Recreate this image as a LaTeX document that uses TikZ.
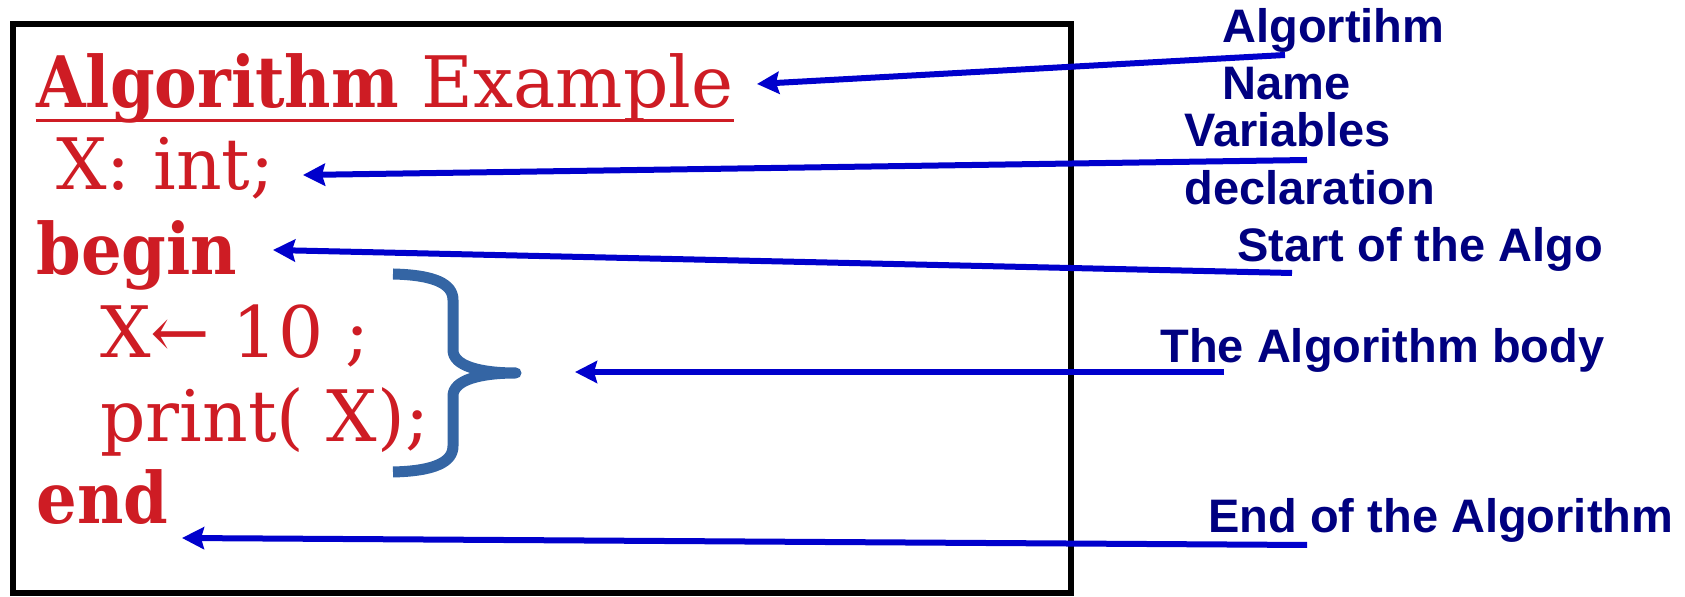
\documentclass[tikz,border=0pt]{standalone}
\usepackage{fontspec}
\setmainfont{DejaVuSerif.ttf}[BoldFont=DejaVuSerifCondensed-Bold.ttf]
\newfontfamily\notefont{Liberation Sans}
\usetikzlibrary{arrows.meta,positioning}
\definecolor{codered}{RGB}{206,28,36}
\definecolor{bracecol}{RGB}{52,101,164}
\definecolor{pointercol}{RGB}{0,0,204}
\definecolor{notecol}{RGB}{0,0,128}

\begin{document}
\begin{tikzpicture}[x=0.5pt,y=-0.5pt,% one unit = one pixel of the reference, y downwards
        code/.style={anchor=base west,inner sep=0pt,text=codered,font=\fontsize{35.5}{40}\selectfont},
        note/.style={anchor=base west,inner sep=0pt,text=notecol,font=\notefont\bfseries\fontsize{23.5}{28}\selectfont},
        pointer/.style={draw=pointercol,line width=3pt,-{Stealth[length=11pt,width=11pt,inset=1.5pt]}}]
\useasboundingbox (0,0) rectangle (1685,597);
\draw[line width=3pt] (13,24) rectangle (1071,593);

% the algorithm itself
\node[code] (title) at (36,108) {\textbf{Algorithm} Example};
\draw[codered,line width=1.5pt] ([yshift=-6.5pt]title.base west) -- ([yshift=-6.5pt]title.base east);
\node[code] (decl) at (56,190) {X: int;};
\node[code] (start) at (36,275) {\textbf{begin}};
\node[code] (assign) at (100,358) {X← 10 ;};
\node[code] (show) at (100,442) {print( X);};
\node[code] (stop) at (36,524) {\textbf{end}};

% brace round the body
\draw[bracecol,line width=5.5pt,line join=round] (393,274) .. controls (435,275) and (453,284) .. (453,300)
  -- (453,350) .. controls (453,366) and (480,373) .. (516,373)
  .. controls (480,373) and (453,380) .. (453,396) -- (453,446)
  .. controls (453,462) and (435,471) .. (393,472);

% notes on the right
\node[note] (nameA) at (1222,43) {Algortihm};
\node[note] (nameB) at (1222,100) {Name};
\node[note] (varA) at (1184,147) {Variables};
\node[note] (varB) at (1184,205) {declaration};
\node[note] (startnote) at (1237,262) {Start of the Algo};
\node[note] (bodynote) at (1160,363) {The Algorithm body};
\node[note] (endnote) at (1208,533) {End of the Algorithm};

% pointers, tail at the note, tip next to the code
\coordinate (nameT) at (1285,55);   \coordinate (nameH) at (757,84);
\coordinate (varT) at (1307,160);   \coordinate (varH) at (303,175);
\coordinate (startT) at (1292,273); \coordinate (startH) at (273,250);
\coordinate (bodyT) at (1224,372);  \coordinate (bodyH) at (575,372);
\coordinate (endT) at (1307,545);   \coordinate (endH) at (182,538);
\foreach \p in {name,var,start,body,end}{
\draw[pointer] (\p T) -- (\p H);
}
\end{tikzpicture}
\end{document}
